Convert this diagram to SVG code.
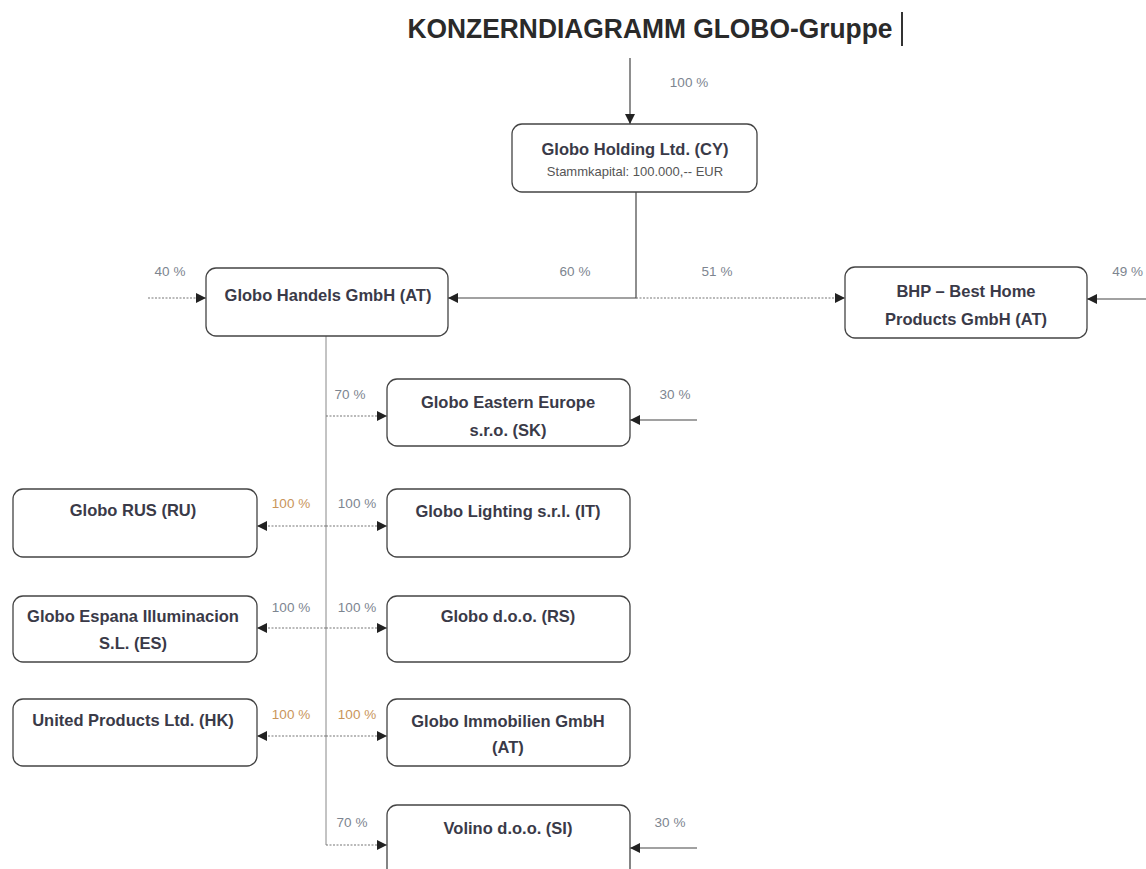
<svg xmlns="http://www.w3.org/2000/svg" width="1146" height="869" viewBox="0 0 1146 869">
<style>
.box{fill:#fff;stroke:#444;stroke-width:1.3}
.t{font-family:"Liberation Sans",Arial,sans-serif;font-weight:bold;font-size:16.5px;fill:#3a3a48;text-anchor:middle}
.s{font-family:"Liberation Sans",Arial,sans-serif;font-size:13px;fill:#555;text-anchor:middle}
.p{font-family:"Liberation Sans",Arial,sans-serif;font-size:13.5px;fill:#7d8590;text-anchor:middle}
.po{font-family:"Liberation Sans",Arial,sans-serif;font-size:13.5px;fill:#c9955a;text-anchor:middle}
.ln{fill:none;stroke:#444;stroke-width:1.2}
.dl{fill:none;stroke:#777;stroke-width:1.1;stroke-dasharray:2 1.5}
.tr{fill:none;stroke:#888;stroke-width:1}
</style>
<defs>
<marker id="ah" viewBox="0 0 10 10" refX="10" refY="5" markerWidth="10" markerHeight="10" markerUnits="userSpaceOnUse" orient="auto">
<path d="M0,0 L10,5 L0,10 Z" fill="#222"/>
</marker>
</defs>
<text x="650" y="38" font-family="'Liberation Sans',Arial,sans-serif" font-weight="bold" font-size="27" fill="#2a2a2a" text-anchor="middle" textLength="485" lengthAdjust="spacingAndGlyphs">KONZERNDIAGRAMM GLOBO-Gruppe</text>
<line x1="902" y1="12" x2="902" y2="46" stroke="#333" stroke-width="2"/>

<g id="connectors">
<line class="ln" x1="630" y1="58" x2="630" y2="124" marker-end="url(#ah)"/>
<polyline class="ln" points="636,192 636,298 448,298" marker-end="url(#ah)"/>
<line class="dl" x1="636" y1="298" x2="845" y2="298" marker-end="url(#ah)"/>
<line class="dl" x1="148" y1="298" x2="206" y2="298" marker-end="url(#ah)"/>
<line class="ln" x1="1146" y1="299" x2="1087" y2="299" marker-end="url(#ah)"/>
<polyline class="tr" points="326,336 326,845"/>
<line class="dl" x1="326" y1="416" x2="387" y2="416" marker-end="url(#ah)"/>
<line class="ln" x1="697" y1="420" x2="630" y2="420" marker-end="url(#ah)"/>
<line class="dl" x1="326" y1="526" x2="387" y2="526" marker-end="url(#ah)"/>
<line class="dl" x1="326" y1="526" x2="257" y2="526" marker-end="url(#ah)"/>
<line class="dl" x1="326" y1="628" x2="387" y2="628" marker-end="url(#ah)"/>
<line class="dl" x1="326" y1="628" x2="257" y2="628" marker-end="url(#ah)"/>
<line class="dl" x1="326" y1="736" x2="387" y2="736" marker-end="url(#ah)"/>
<line class="dl" x1="326" y1="736" x2="257" y2="736" marker-end="url(#ah)"/>
<line class="dl" x1="326" y1="845" x2="387" y2="845" marker-end="url(#ah)"/>
<line class="ln" x1="697" y1="848" x2="630" y2="848" marker-end="url(#ah)"/>
<text class="p" x="689" y="87">100 %</text>
<text class="p" x="575" y="276">60 %</text>
<text class="p" x="717" y="276">51 %</text>
<text class="p" x="170" y="276">40 %</text>
<text class="p" x="1143" y="276" style="text-anchor:end">49 %</text>
<text class="p" x="350" y="399">70 %</text>
<text class="p" x="675" y="399">30 %</text>
<text class="po" x="291" y="508">100 %</text>
<text class="p" x="357" y="508">100 %</text>
<text class="p" x="291" y="612">100 %</text>
<text class="p" x="357" y="612">100 %</text>
<text class="po" x="291" y="719">100 %</text>
<text class="po" x="357" y="719">100 %</text>
<text class="p" x="352" y="827">70 %</text>
<text class="p" x="670" y="827">30 %</text>
</g>

<g id="holding">
<rect class="box" x="512" y="124" width="245" height="68" rx="10"/>
<text class="t" x="635" y="155">Globo Holding Ltd. (CY)</text>
<text class="s" x="635" y="176">Stammkapital: 100.000,-- EUR</text>
</g>
<g id="handels">
<rect class="box" x="206" y="268" width="242" height="68" rx="10"/>
<text class="t" x="328" y="301">Globo Handels GmbH (AT)</text>
</g>
<g id="bhp">
<rect class="box" x="845" y="267" width="242" height="71" rx="10"/>
<text class="t" x="966" y="297">BHP – Best Home</text>
<text class="t" x="966" y="325">Products GmbH (AT)</text>
</g>
<g id="eastern">
<rect class="box" x="387" y="379" width="243" height="67" rx="10"/>
<text class="t" x="508" y="408">Globo Eastern Europe</text>
<text class="t" x="508" y="436">s.r.o. (SK)</text>
</g>
<g id="rus">
<rect class="box" x="13" y="489" width="244" height="68" rx="10"/>
<text class="t" x="133" y="516">Globo RUS (RU)</text>
</g>
<g id="lighting">
<rect class="box" x="387" y="489" width="243" height="68" rx="10"/>
<text class="t" x="508" y="517">Globo Lighting s.r.l. (IT)</text>
</g>
<g id="espana">
<rect class="box" x="13" y="596" width="244" height="66" rx="10"/>
<text class="t" x="133" y="622">Globo Espana Illuminacion</text>
<text class="t" x="133" y="649">S.L. (ES)</text>
</g>
<g id="doo-rs">
<rect class="box" x="387" y="596" width="243" height="66" rx="10"/>
<text class="t" x="508" y="622">Globo d.o.o. (RS)</text>
</g>
<g id="united">
<rect class="box" x="13" y="699" width="244" height="67" rx="10"/>
<text class="t" x="133" y="726">United Products Ltd. (HK)</text>
</g>
<g id="immobilien">
<rect class="box" x="387" y="699" width="243" height="67" rx="10"/>
<text class="t" x="508" y="727">Globo Immobilien GmbH</text>
<text class="t" x="508" y="753">(AT)</text>
</g>
<g id="volino">
<rect class="box" x="387" y="805" width="243" height="80" rx="10"/>
<text class="t" x="508" y="834">Volino d.o.o. (SI)</text>
</g>
</svg>
